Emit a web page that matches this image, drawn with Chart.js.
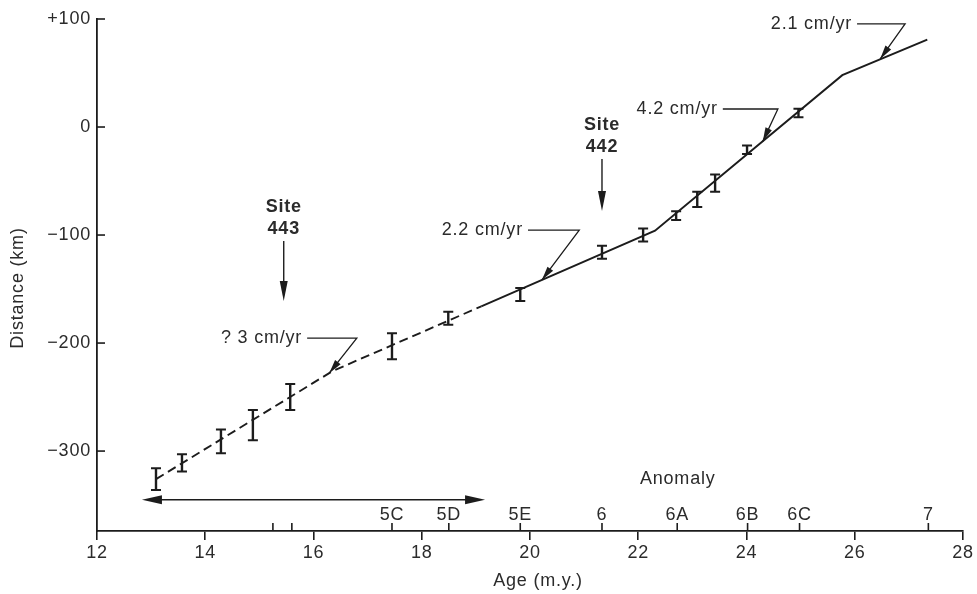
<!DOCTYPE html>
<html>
<head>
<meta charset="utf-8">
<script src="https://cdn.jsdelivr.net/npm/chart.js@4.4.1/dist/chart.umd.min.js"></script>
<style>
  html, body { margin: 0; padding: 0; background: #fff; }
  #wrap { width: 977px; height: 594px; position: relative; }
</style>
</head>
<body>
<div id="wrap"><canvas id="grafico"></canvas></div>
<script>
// valores
var ages = [13.09, 13.57, 14.29, 14.88, 15.57, 17.45, 18.49, 19.82, 21.33, 22.09, 22.70, 23.09, 23.42, 24.01, 24.96];
var distances = [-326, -311, -291, -276, -250, -203, -177, -155, -116, -100, -82, -67, -52, -21, 13];
var errors = [10, 8, 11, 14, 12, 12, 6, 6, 6, 6, 4, 7, 8, 4, 4];

// linha tracejada (? 3 cm/yr) e linha cheia
var dashAges = [13.09, 16.35, 19.1];
var dashDist = [-326, -226, -166];
var solidAges = [19.1, 22.31, 25.77, 27.34];
var solidDist = [-166, -96, 48, 81];

// anomalias magneticas
var anomalyLabels = ['5C', '5D', '5E', '6', '6A', '6B', '6C', '7'];
var anomalyAges = [17.45, 18.5, 19.82, 21.33, 22.72, 24.02, 24.98, 27.36];
var extraTickAges = [15.25, 15.6];

// eixos
var yTickValues = [-300, -200, -100, 0, 100];
var yTickLabels = ['\u2212300', '\u2212200', '\u2212100', '0', '+100'];

var ink = '#1c1c1c';
var textColor = '#2b2b2b';
var fontFamily = '"Liberation Sans", Arial, Helvetica, sans-serif';

// anotacoes de taxa (texto, fim do texto, fim da guia, ponta da seta)
var rateNotes = [
    { text: '2.1 cm/yr', tx: 25.95, ty: 95.4, hx: 26.93, px: 26.47, py: 63 },
    { text: '4.2 cm/yr', tx: 23.47, ty: 16.7, hx: 24.58, px: 24.30, py: -13.3 },
    { text: '2.2 cm/yr', tx: 19.87, ty: -95.4, hx: 20.91, px: 20.22, py: -141.6 },
    { text: '? 3 cm/yr', tx: 15.79, ty: -195.4, hx: 16.80, px: 16.29, py: -227.9 }
];
var siteNotes = [
    { name: '443', x: 15.45, y1: -74, y2: -94.4, a1: -105.6, a2: -161 },
    { name: '442', x: 21.33, y1: 1.9, y2: -18.5, a1: -29.6, a2: -77.8 }
];

function toPoints(xs, ys) {
    return xs.map(function(v, i) { return { x: v, y: ys[i] }; });
}

function arrowHead(ctx, x, y, ang, len, half) {
    var c = Math.cos(ang), s = Math.sin(ang);
    var bx = x - len * c, by = y - len * s;
    ctx.beginPath();
    ctx.moveTo(x, y);
    ctx.lineTo(bx - half * s, by + half * c);
    ctx.lineTo(bx + half * s, by - half * c);
    ctx.closePath();
    ctx.fill();
}

var figura = {
    id: 'figura',
    beforeDraw: function(chart) {
        chart.ctx.letterSpacing = '0.8px';
    },
    afterDraw: function(chart) {
        var ctx = chart.ctx;
        var xs = chart.scales.x, ys = chart.scales.y;
        var area = chart.chartArea;
        ctx.save();
        ctx.letterSpacing = '0.8px';
        ctx.strokeStyle = ink;
        ctx.fillStyle = ink;

        // ticks do eixo y para dentro
        ctx.lineWidth = 1.6;
        yTickValues.forEach(function(v) {
            var y = ys.getPixelForValue(v);
            ctx.beginPath();
            ctx.moveTo(area.left, y);
            ctx.lineTo(area.left + 8, y);
            ctx.stroke();
        });

        // ticks das anomalias
        anomalyAges.concat(extraTickAges).forEach(function(a) {
            var x = xs.getPixelForValue(a);
            ctx.beginPath();
            ctx.moveTo(x, area.bottom);
            ctx.lineTo(x, area.bottom - 8);
            ctx.stroke();
        });
        ctx.font = '18px ' + fontFamily;
        ctx.fillStyle = textColor;
        ctx.textAlign = 'center';
        ctx.textBaseline = 'middle';
        anomalyLabels.forEach(function(lab, i) {
            ctx.fillText(lab, xs.getPixelForValue(anomalyAges[i]), area.bottom - 16);
        });
        ctx.fillText('Anomaly', xs.getPixelForValue(22.73), ys.getPixelForValue(-326));

        // barras de erro
        ctx.strokeStyle = ink;
        ctx.fillStyle = ink;
        ages.forEach(function(a, i) {
            var x = xs.getPixelForValue(a);
            var t = ys.getPixelForValue(distances[i] + errors[i]);
            var b = ys.getPixelForValue(distances[i] - errors[i]);
            ctx.lineWidth = 2.4;
            ctx.beginPath();
            ctx.moveTo(x, t);
            ctx.lineTo(x, b);
            ctx.stroke();
            ctx.lineWidth = 2;
            ctx.beginPath();
            ctx.moveTo(x - 5, t);
            ctx.lineTo(x + 5, t);
            ctx.moveTo(x - 5, b);
            ctx.lineTo(x + 5, b);
            ctx.stroke();
        });

        // seta dupla
        var ay = ys.getPixelForValue(-345);
        var ax1 = xs.getPixelForValue(12.83), ax2 = xs.getPixelForValue(19.17);
        ctx.lineWidth = 1.6;
        ctx.beginPath();
        ctx.moveTo(ax1 + 10, ay);
        ctx.lineTo(ax2 - 10, ay);
        ctx.stroke();
        arrowHead(ctx, ax1, ay, Math.PI, 20, 4.5);
        arrowHead(ctx, ax2, ay, 0, 20, 4.5);

        // anotacoes de taxa
        ctx.font = '18px ' + fontFamily;
        rateNotes.forEach(function(n) {
            var tx = xs.getPixelForValue(n.tx), ty = ys.getPixelForValue(n.ty);
            var hx = xs.getPixelForValue(n.hx);
            var px = xs.getPixelForValue(n.px), py = ys.getPixelForValue(n.py);
            ctx.fillStyle = textColor;
            ctx.textAlign = 'right';
            ctx.fillText(n.text, tx, ty);
            ctx.fillStyle = ink;
            ctx.lineWidth = 1.3;
            ctx.beginPath();
            ctx.moveTo(tx + 5, ty);
            ctx.lineTo(hx, ty);
            ctx.lineTo(px, py);
            ctx.stroke();
            arrowHead(ctx, px, py, Math.atan2(py - ty, px - hx), 14, 3.5);
        });

        // sitios
        siteNotes.forEach(function(s) {
            var x = xs.getPixelForValue(s.x);
            ctx.fillStyle = textColor;
            ctx.textAlign = 'center';
            ctx.font = 'bold 18px ' + fontFamily;
            ctx.fillText('Site', x, ys.getPixelForValue(s.y1));
            ctx.fillText(s.name, x, ys.getPixelForValue(s.y2));
            var a1 = ys.getPixelForValue(s.a1), a2 = ys.getPixelForValue(s.a2);
            ctx.fillStyle = ink;
            ctx.lineWidth = 1.4;
            ctx.beginPath();
            ctx.moveTo(x, a1);
            ctx.lineTo(x, a2 - 10);
            ctx.stroke();
            arrowHead(ctx, x, a2, Math.PI / 2, 20, 4);
        });

        // titulos dos eixos
        ctx.fillStyle = textColor;
        ctx.font = '18px ' + fontFamily;
        ctx.textAlign = 'center';
        ctx.fillText('Age (m.y.)', 538, 581);
        ctx.translate(18, 288);
        ctx.rotate(-Math.PI / 2);
        ctx.fillText('Distance (km)', 0, 0);
        ctx.restore();
    }
};

var ctx = document.getElementById('grafico').getContext('2d');
var grafico = new Chart(ctx, {
    type: 'scatter',
    data: {
        datasets: [{
            label: 'tracejada',
            data: toPoints(dashAges, dashDist),
            showLine: true,
            borderColor: ink,
            borderWidth: 1.9,
            borderDash: [9, 5],
            pointRadius: 0
        }, {
            label: 'cheia',
            data: toPoints(solidAges, solidDist),
            showLine: true,
            borderColor: ink,
            borderWidth: 1.9,
            pointRadius: 0
        }, {
            label: 'pontos',
            data: toPoints(ages, distances),
            pointRadius: 0
        }]
    },
    options: {
        responsive: true,
        maintainAspectRatio: false,
        animation: false,
        layout: { padding: { left: 0, right: 14, top: 19, bottom: 0 } },
        plugins: {
            legend: { display: false },
            tooltip: { enabled: false }
        },
        scales: {
            x: {
                type: 'linear',
                min: 12,
                max: 28,
                ticks: {
                    stepSize: 2,
                    color: textColor,
                    font: { family: fontFamily, size: 18 },
                    padding: 2,
                    maxRotation: 0,
                    autoSkip: false
                },
                grid: {
                    display: true,
                    drawOnChartArea: false,
                    drawTicks: true,
                    tickLength: 9,
                    color: ink,
                    lineWidth: 1.6
                },
                border: { display: true, color: ink, width: 1.8 },
                afterFit: function(s) { s.height = 63; }
            },
            y: {
                type: 'linear',
                min: -374,
                max: 100,
                afterBuildTicks: function(s) {
                    s.ticks = yTickValues.map(function(v) { return { value: v }; });
                },
                ticks: {
                    color: textColor,
                    font: { family: fontFamily, size: 18 },
                    padding: 6,
                    callback: function(v) {
                        return yTickLabels[yTickValues.indexOf(v)];
                    }
                },
                grid: { display: false, drawTicks: false, tickLength: 0 },
                border: { display: true, color: ink, width: 1.8 },
                afterFit: function(s) { s.width = 97; }
            }
        }
    },
    plugins: [figura]
});
</script>
</body>
</html>
